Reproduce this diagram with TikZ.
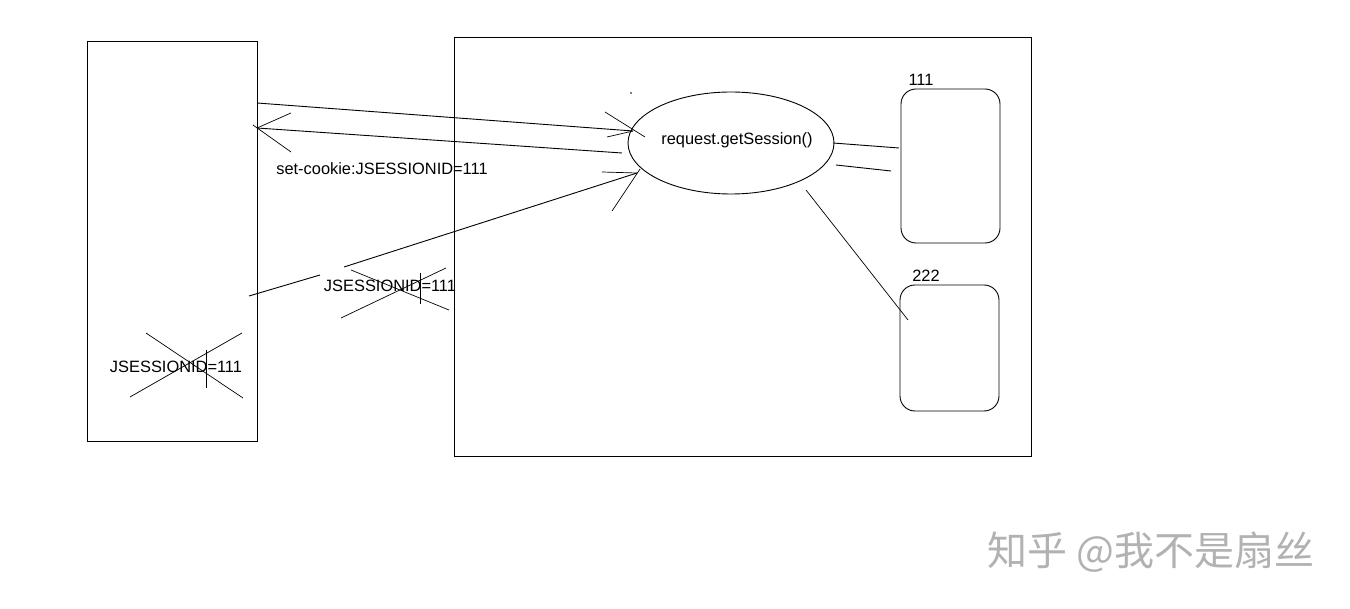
\documentclass[tikz,border=0pt]{standalone}
\usepackage{fontspec}
\usetikzlibrary{shapes.geometric}
\setmainfont{Liberation Sans}
\newfontfamily\cjk{Noto Sans CJK SC}
\begin{document}
\begin{tikzpicture}[x=1pt,y=-1pt,
  ln/.style={line width=0.9pt},
  tln/.style={line width=0.7pt},
  lbl/.style={font=\fontsize{16.4}{19}\selectfont, inner sep=0pt},
  rbox/.style={draw, line width=0.9pt, rounded corners=15pt}]
\useasboundingbox[fill=white] (0,0) rectangle (1350,609);
% boxes
\node[draw, ln, minimum width=170pt, minimum height=400pt, inner sep=0pt] (client) at (172,241) {};
\node[draw, ln, minimum width=577pt, minimum height=419pt, inner sep=0pt] (server) at (742.5,246.5) {};
\node[draw, ln, ellipse, minimum width=206pt, minimum height=102pt, inner sep=0pt] (gs) at (731,143) {};
\node[lbl] (gstext) at (737,140) {request.getSession()};
\fill (631,93) circle (0.8pt);
\node[rbox, minimum width=99pt, minimum height=154pt] (s1) at (950.5,166) {};
\node[rbox, minimum width=99pt, minimum height=126pt] (s2) at (949.5,348) {};
\node[lbl, anchor=base] (l1) at (921,86) {111};
\node[lbl, anchor=base] (l2) at (926,282) {222};
% request line
\coordinate (a1) at (257,103); \coordinate (a2) at (633,131);
\draw[ln] (a1) -- (a2);
\coordinate (a3) at (605,112); \coordinate (a4) at (645,137);
\coordinate (a5) at (607,137);
\draw[tln] (a3) -- (a4); \draw[tln] (a5) -- (a2);
% response line
\coordinate (b1) at (622,153); \coordinate (b2) at (257,128);
\draw[ln] (b1) -- (b2);
\coordinate (b3) at (253,125); \coordinate (b4) at (291,152);
\coordinate (b5) at (291,113);
\draw[tln] (b3) -- (b4); \draw[tln] (b2) -- (b5);
\node[lbl] (sc) at (382,169) {set-cookie:JSESSIONID=111};
% second request
\coordinate (c1) at (249,296); \coordinate (c2) at (320,275);
\coordinate (c3) at (344,267); \coordinate (c4) at (637,173);
\draw[ln] (c1) -- (c2); \draw[ln] (c3) -- (c4);
\coordinate (c5) at (602,172); \coordinate (c6) at (612,211);
\coordinate (c7) at (640,169);
\draw[tln] (c5) -- (c4); \draw[tln] (c6) -- (c7);
\node[lbl] (j2) at (390,286) {JSESSIONID=111};
\draw[tln] (351,270) -- (449,310);
\draw[tln] (341,318) -- (446,268);
\draw[tln] (420,273) -- (420,304);
% client cookie crossed
\node[lbl] (j1) at (176,367) {JSESSIONID=111};
\draw[tln] (146,333) -- (243,398);
\draw[tln] (130,397) -- (242,333);
\draw[tln] (206,350) -- (206,388);
% session links
\coordinate (d1) at (833,143); \coordinate (d2) at (899,148);
\coordinate (d3) at (836,165); \coordinate (d4) at (891,171);
\coordinate (d5) at (806,190); \coordinate (d6) at (908,320);
\draw[ln] (d1) -- (d2);
\draw[ln] (d3) -- (d4);
\draw[tln] (d5) -- (d6);
% watermark
\node[font=\cjk\fontsize{40}{44}\selectfont, text=black!30, inner sep=0pt] (wm) at (1151,552) {知乎 @我不是扇丝};
\end{tikzpicture}
\end{document}
